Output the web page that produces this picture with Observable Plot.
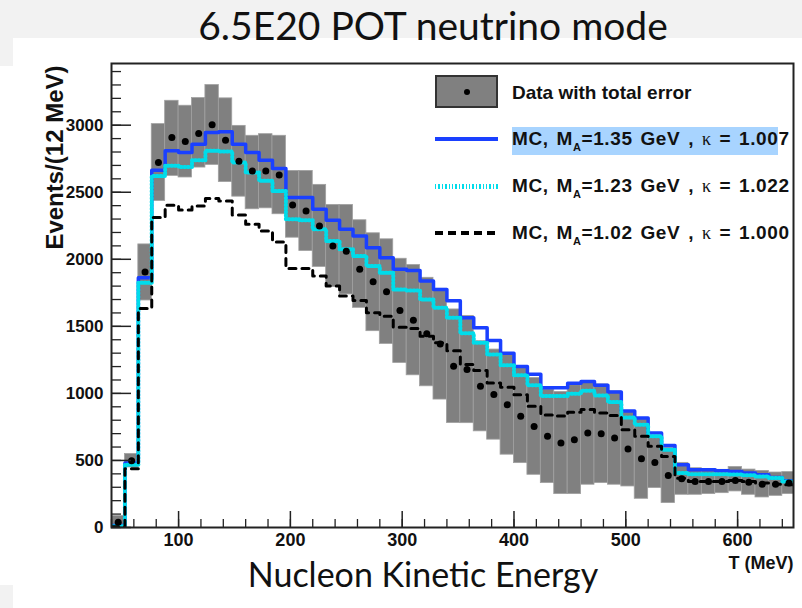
<!DOCTYPE html>
<html>
<head>
<meta charset="utf-8">
<script src="https://cdn.jsdelivr.net/npm/d3@7"></script>
<script src="https://cdn.jsdelivr.net/npm/@observablehq/plot@0.6"></script>
<style>
  body { margin: 0; background: #fff; }
  #page { position: relative; width: 802px; height: 608px; overflow: hidden; background: #fff; }
  .bg { position: absolute; background: #f2f2f2; }
  #title { position: relative; height: 48px; line-height: 50px; box-sizing: border-box; padding-left: 64px;
           text-align: center; font-family: Lato, "Open Sans", sans-serif; font-size: 39px; color: #111; white-space: nowrap; }
  #chart { position: relative; }
  #caption { position: absolute; left: 0; width: 846px; top: 553px; text-align: center; line-height: 42px;
             font-family: Lato, "Open Sans", sans-serif; font-size: 34px; color: #111; white-space: nowrap; }
  .lg { position: absolute; left: 512px; height: 22px; line-height: 22px; font-family: "Liberation Sans", Arial, sans-serif;
        font-weight: bold; font-size: 19px; color: #111; white-space: nowrap; }
  .lg.mc { word-spacing: 2px; letter-spacing: 0.6px; }
  .lg sub { font-size: 11px; vertical-align: -6px; line-height: 0; }
  .lg .k { font-family: "Liberation Serif", "DejaVu Serif", serif; font-weight: normal; font-size: 18px; }
  .sw { position: absolute; left: 435px; width: 63px; }
</style>
</head>
<body>
<div id="page">
  <div class="bg" style="left:0;top:0;width:802px;height:38px"></div>
  <div class="bg" style="left:0;top:38px;width:13px;height:28px"></div>
  <div class="bg" style="left:0;top:585px;width:13px;height:23px"></div>
  <div id="title">6.5E20 POT neutrino mode</div>
  <div id="chart"></div>
  <div id="legend">
    <div class="sw" style="top:75px;height:33px;box-sizing:border-box;border:2px solid #333;background:#808080;"></div>
    <div style="position:absolute;left:464px;top:89px;width:6px;height:6px;border-radius:3px;background:#000;"></div>
    <div class="lg" style="top:82px;">Data with total error</div>
    <div class="sw" style="top:137px;height:4px;background:#1a40ff;"></div>
    <div style="position:absolute;left:512px;top:127px;width:266px;height:28px;background:#a8d4ff;"></div>
    <div class="lg mc" style="top:128px;">MC, M<sub>A</sub>=1.35 GeV , <span class="k">κ</span> = 1.007</div>
    <div class="sw" style="top:184px;height:5px;background:repeating-linear-gradient(90deg,#00dcea 0 1.3px,transparent 1.3px 3.4px);"></div>
    <div class="lg mc" style="top:175px;">MC, M<sub>A</sub>=1.23 GeV , <span class="k">κ</span> = 1.022</div>
    <div class="sw" style="top:231px;height:4px;background:repeating-linear-gradient(90deg,#000 0 8px,transparent 8px 13px);"></div>
    <div class="lg mc" style="top:222px;">MC, M<sub>A</sub>=1.02 GeV , <span class="k">κ</span> = 1.000</div>
  </div>
  <div id="caption">Nucleon Kinetic Energy</div>
</div>
<script>
// Bin lower edges (MeV), 12 MeV bins
const binStart = [40,52,64,76,88,100,112,124,136,148,160,172,184,196,208,220,232,244,256,268,280,292,304,316,328,340,352,364,376,388,400,412,424,436,448,460,472,484,496,508,520,532,544,556,568,580,592,604,616,628,640];
const binWidth = 12;

// Data (events / 12 MeV)
const dataVals = [40,498,1905,2722,2908,2878,2938,3003,2888,2732,2659,2659,2629,2405,2360,2249,2099,2060,1925,1833,1758,1618,1546,1444,1369,1203,1178,1053,991,916,829,754,680,630,655,704,699,667,585,513,485,388,363,343,343,343,351,338,323,323,331];
// Total error band (low / high)
const errLow  = [10,448,1693,2435,2622,2610,2684,2704,2576,2467,2373,2380,2336,2161,2062,1943,1793,1738,1638,1464,1369,1227,1135,1053,954,779,778,717,655,543,480,393,331,249,249,319,331,319,306,214,294,182,244,244,249,256,269,244,224,236,249];
const errHigh = [85,548,2111,3008,3182,3145,3202,3299,3200,2995,2921,2933,2921,2659,2659,2555,2405,2405,2291,2194,2149,2004,1957,1862,1780,1626,1578,1389,1327,1289,1190,1115,1029,1011,1061,1089,1067,1015,864,812,676,594,482,442,437,430,451,432,422,410,413];
// MC predictions
const mc135 = [15,481,1863,2664,2809,2796,2858,2946,2951,2858,2796,2739,2677,2460,2460,2373,2291,2224,2174,2087,2012,1925,1917,1838,1775,1690,1564,1489,1394,1300,1200,1142,1043,1043,1075,1088,1060,1010,868,816,704,612,468,431,431,423,418,406,393,373,348];
const mc123 = [10,468,1825,2622,2697,2689,2739,2809,2804,2722,2647,2585,2510,2298,2291,2224,2136,2074,2024,1950,1900,1775,1768,1701,1638,1564,1448,1377,1290,1210,1135,1060,980,980,998,1020,985,935,820,767,680,580,406,398,398,398,395,390,380,370,343];
const mc102 = [5,438,1633,2311,2403,2368,2398,2453,2435,2331,2261,2211,2129,1932,1932,1875,1800,1726,1693,1601,1576,1494,1484,1427,1377,1318,1215,1170,1078,1045,990,905,838,832,860,879,854,835,729,680,605,530,368,343,343,343,351,343,331,323,318];

// Axis ticks
const xMajorTicks = [100,200,300,400,500,600];
const yMajorTicks = [0,500,1000,1500,2000,2500,3000];
const xMinorTicks = d3.range(40, 651, 20);
const yMinorTicks = d3.range(0, 3460, 100);

const rows = binStart.map((x0, i) => ({
  x0, x1: x0 + binWidth, xc: x0 + binWidth / 2,
  data: dataVals[i], lo: errLow[i], hi: errHigh[i]
}));
const stepPts = (s) => [
  ...binStart.map((x, i) => ({x, y: s[i]})),
  {x: binStart[binStart.length - 1] + binWidth, y: s[s.length - 1]}
];

const W = 802, H = 560, mT = 15, mB = 81, mL = 111, mR = 9;
const fw = W - mL - mR, fh = H - mT - mB;

const chart = Plot.plot({
  width: W, height: H,
  marginTop: mT, marginBottom: mB, marginLeft: mL, marginRight: mR,
  style: {background: "transparent", fontFamily: "'Liberation Sans', Arial, sans-serif", color: "#111"},
  x: {domain: [40, 650]},
  y: {domain: [0, 3460]},
  marks: [
    Plot.rect(rows, {x1: "x0", x2: "x1", y1: "lo", y2: "hi", fill: "#808080", stroke: "#a0a0a0", strokeWidth: 0.8, clip: true}),
    Plot.line(stepPts(mc135), {x: "x", y: "y", curve: "step-after", stroke: "#1a40ff", strokeWidth: 3.5, clip: true}),
    Plot.line(stepPts(mc123), {x: "x", y: "y", curve: "step-after", stroke: "#00dcea", strokeWidth: 4, strokeDasharray: "1.2,2.3", clip: true}),
    Plot.line(stepPts(mc102), {x: "x", y: "y", curve: "step-after", stroke: "#000", strokeWidth: 3, strokeDasharray: "7,6", clip: true}),
    Plot.dot(rows, {x: "xc", y: "data", r: 3.5, fill: "#000", stroke: "none", clip: true}),
    Plot.tickY(yMinorTicks, {y: d => d, insetRight: fw - 10, stroke: "#222", strokeWidth: 1.3}),
    Plot.tickY(yMajorTicks, {y: d => d, insetRight: fw - 20, stroke: "#222", strokeWidth: 1.5}),
    Plot.tickX(xMinorTicks, {x: d => d, insetTop: fh - 8, stroke: "#222", strokeWidth: 1.3}),
    Plot.tickX(xMajorTicks, {x: d => d, insetTop: fh - 16, stroke: "#222", strokeWidth: 1.5}),
    Plot.axisY({ticks: yMajorTicks, tickFormat: d3.format("d"), tickSize: 0, tickPadding: 8, fontSize: 17, fontWeight: "bold", label: null}),
    Plot.axisX({ticks: xMajorTicks, tickFormat: d3.format("d"), tickSize: 0, tickPadding: 6, fontSize: 18, fontWeight: "bold", label: null}),
    Plot.frame({stroke: "#222", strokeWidth: 2}),
    Plot.text(["Events/(12 MeV)"], {text: d => d, frameAnchor: "top-left", rotate: -90, textAnchor: "end", dx: -66, dy: 2, fontSize: 24, fontWeight: "bold"}),
    Plot.text(["T (MeV)"], {text: d => d, frameAnchor: "bottom-right", textAnchor: "end", dx: 0, dy: 41, fontSize: 18, fontWeight: "bold"})
  ]
});
document.getElementById("chart").appendChild(chart);
</script>
</body>
</html>
